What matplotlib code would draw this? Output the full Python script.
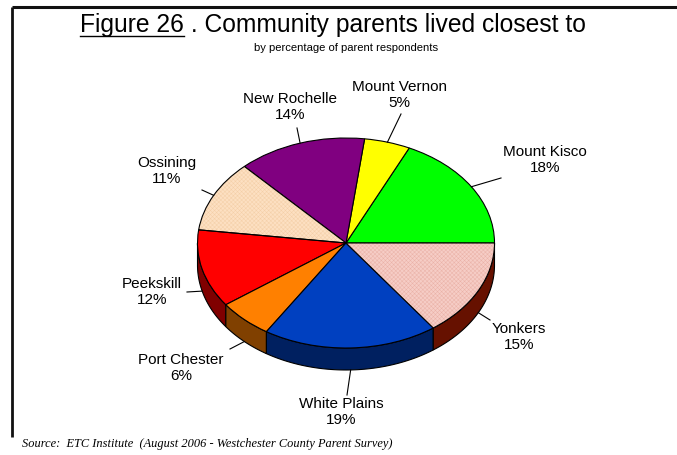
import numpy as np
import matplotlib
matplotlib.use("Agg")
import matplotlib.pyplot as plt
from matplotlib.patches import Wedge, Polygon
from matplotlib.transforms import Affine2D

plt.rcParams['font.family'] = ['Liberation Sans', 'DejaVu Sans']
plt.rcParams['hatch.linewidth'] = 0.35

# survey shares, counter-clockwise from 3 o'clock
communities = ['Mount Kisco', 'Mount Vernon', 'New Rochelle', 'Ossining',
               'Peekskill', 'Port Chester', 'White Plains', 'Yonkers']
shares = [18, 5, 14, 11, 12, 6, 19, 15]

top_colors = ['#00ff00', '#ffff00', '#800080', '#fde0c2',
              '#ff0000', '#ff8000', '#0040c0', '#f6cdc6']
side_colors = ['#008000', '#808000', '#400040', '#806040',
               '#800000', '#804000', '#002060', '#661100']
hatch_colors = [None, None, None, '#f4cfa8', None, None, None, '#eab2a8']

# label centres and leader ends, in pixels from top-left
label_pos = [(545, 160), (399, 95), (290, 107), (167, 171),
             (152, 292), (181, 368), (341, 412), (519, 337)]
leader_end = [(501, 178), (401, 114), (297, 128), (202, 190),
              (187, 292), (230, 349), (347, 395), (490, 320)]

W, H = 677, 455
cx, cy = 346, 243          # pie centre (pixels)
rx, ry, depth = 148.5, 105, 22

fig = plt.figure(figsize=(W / 100, H / 100), dpi=100)
ax = fig.add_axes([0, 0, 1, 1])

wedges, _ = ax.pie(shares, colors=top_colors, startangle=0, counterclock=True,
                   wedgeprops=dict(edgecolor='black', linewidth=0.8))
ax.set_xlim(0, W)
ax.set_ylim(0, H)
ax.set_aspect('auto')
ax.axis('off')

# squash the unit pie into an ellipse
tr = Affine2D().scale(rx, ry).translate(cx, H - cy) + ax.transData
d = depth / ry

for w, sc, hc in zip(wedges, side_colors, hatch_colors):
    w.set_transform(tr)
    w.set_zorder(3)
    # side band for the front half (180..360 deg)
    t1, t2 = max(w.theta1, 180), min(w.theta2, 360)
    if t2 > t1:
        t = np.radians(np.linspace(t1, t2, 60))
        top = np.column_stack([np.cos(t), np.sin(t)])
        bot = np.column_stack([np.cos(t[::-1]), np.sin(t[::-1]) - d])
        ax.add_patch(Polygon(np.vstack([top, bot]), closed=True, facecolor=sc,
                             edgecolor='black', linewidth=0.8,
                             transform=tr, zorder=2))
    if hc is not None:
        w.set_hatch('xxxxxxxx')
        w.set_edgecolor(hc)
        w.set_linewidth(0)
        ax.add_patch(Wedge((0, 0), 1, w.theta1, w.theta2, fill=False,
                           edgecolor='black', linewidth=0.8,
                           transform=tr, zorder=4))

# labels with leader lines
for w, name, v, (lx, ly), (ex, ey) in zip(wedges, communities, shares,
                                            label_pos, leader_end):
    mid = np.radians((w.theta1 + w.theta2) / 2)
    ax_ = cx + rx * np.cos(mid)
    ay_ = cy - ry * np.sin(mid)
    if np.sin(mid) < 0:
        ay_ += depth
    ax.plot([ax_, ex], [H - ay_, H - ey], color='black', lw=0.8, zorder=5)
    ax.text(lx, H - ly, f"{name}\n{v}%", ha='center', va='center',
            fontsize=11, color='black', zorder=6)

# frame lines (top and left only)
ax.plot([12, W], [H - 7, H - 7], color='#111111', lw=2.2, solid_capstyle='butt')
ax.plot([12, 12], [H - 7, H - 437], color='#111111', lw=2.0, solid_capstyle='butt')

# title with underlined figure number
fig.canvas.draw()
r = fig.canvas.get_renderer()
t_a = ax.text(80, H - 32, "Figure 26", fontsize=17.7, va='baseline', ha='left')
bb = t_a.get_window_extent(renderer=r)
ax.text(bb.x1, H - 32, " . Community parents lived closest to", fontsize=17.7,
        va='baseline', ha='left')
ax.plot([bb.x0, bb.x1], [H - 36, H - 36], color='black', lw=1.0)

ax.text(346, H - 48, "by percentage of parent respondents", fontsize=8.1,
        ha='center', va='center')

ax.text(22, H - 444, "Source:  ETC Institute  (August 2006 - Westchester County Parent Survey)",
        fontsize=8.9, family=['Liberation Serif', 'DejaVu Serif'], style='italic',
        ha='left', va='center')

fig.savefig('out.png', dpi=100)
